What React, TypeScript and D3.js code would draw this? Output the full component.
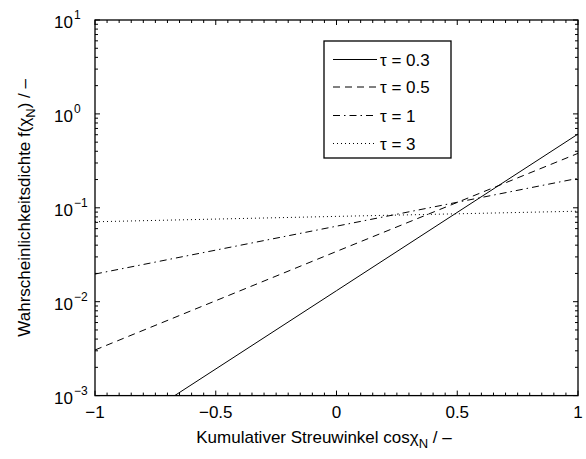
import React from "react";
import * as d3 from "d3";

const W = 586;
const H = 459;
const M = { left: 95, top: 20, right: 578, bottom: 395.6 };

const legendLabels = ["τ = 0.3", "τ = 0.5", "τ = 1", "τ = 3"];
const dashes = ["none", "7,5", "7,4,1.5,4", "1,3"];

// cos chi_N positions and density values
const xs03 = [-0.67, 0, 1];
const ys03 = [0.001, 0.0131, 0.61];
const xs05 = [-1, 0, 1];
const ys05 = [0.00306, 0.0343, 0.38];
const xs1 = [-1, 0, 1];
const ys1 = [0.0197, 0.0637, 0.206];
const xs3 = [-1, 0, 1];
const ys3 = [0.071, 0.081, 0.092];

const xTickVals = [-1, -0.5, 0, 0.5, 1];
const xTickLabels = ["−1", "−0.5", "0", "0.5", "1"];
const yExps = [-3, -2, -1, 0, 1];
const yExpLabels = ["−3", "−2", "−1", "0", "1"];

export default function App() {
  const x = d3.scaleLinear().domain([-1, 1]).range([M.left, M.right]);
  const y = d3.scaleLog().domain([1e-3, 10]).range([M.bottom, M.top]);

  const series = [
    { xs: xs03, ys: ys03 },
    { xs: xs05, ys: ys05 },
    { xs: xs1, ys: ys1 },
    { xs: xs3, ys: ys3 },
  ];
  const line = d3
    .line<[number, number]>()
    .x((d) => x(d[0]))
    .y((d) => y(d[1]));

  const xMinor = d3.range(-1, 1.0001, 0.05).filter(
    (v) => !xTickVals.some((t) => Math.abs(t - v) < 1e-6)
  );
  const yMinor: number[] = [];
  for (let e = -3; e < 1; e++) {
    for (let k = 2; k <= 9; k++) yMinor.push(k * Math.pow(10, e));
  }

  const axisColor = "#000";
  const font = "'Liberation Sans', Arial, Helvetica, sans-serif";
  const majorLen = 5;
  const minorLen = 3;

  const legX = 324;
  const legY = 41;
  const legW = 127;
  const legH = 117;
  const rowY = [59.5, 87, 115.5, 143.5];

  return (
    <svg
      width={W}
      height={H}
      style={{ position: "absolute", left: 0, top: 0, background: "#fff" }}
      fontFamily={font}
    >
      <rect x={0} y={0} width={W} height={H} fill="#fff" />
      <defs>
        <clipPath id="plotclip">
          <rect x={M.left} y={M.top} width={M.right - M.left} height={M.bottom - M.top} />
        </clipPath>
      </defs>

      {/* data lines */}
      <g clipPath="url(#plotclip)">
        {series.map((s, i) => (
          <path
            key={i}
            d={line(s.xs.map((v, j) => [v, s.ys[j]] as [number, number])) || ""}
            fill="none"
            stroke="#000"
            strokeWidth={1}
            strokeDasharray={dashes[i]}
          />
        ))}
      </g>

      {/* ticks */}
      <g stroke={axisColor} strokeWidth={1}>
        {xTickVals.map((v, i) => (
          <g key={"xt" + i}>
            <line x1={x(v)} x2={x(v)} y1={M.bottom} y2={M.bottom - majorLen} />
            <line x1={x(v)} x2={x(v)} y1={M.top} y2={M.top + majorLen} />
          </g>
        ))}
        {xMinor.map((v, i) => (
          <g key={"xm" + i}>
            <line x1={x(v)} x2={x(v)} y1={M.bottom} y2={M.bottom - minorLen} />
            <line x1={x(v)} x2={x(v)} y1={M.top} y2={M.top + minorLen} />
          </g>
        ))}
        {yExps.map((e, i) => (
          <g key={"yt" + i}>
            <line x1={M.left} x2={M.left + majorLen} y1={y(Math.pow(10, e))} y2={y(Math.pow(10, e))} />
            <line x1={M.right} x2={M.right - majorLen} y1={y(Math.pow(10, e))} y2={y(Math.pow(10, e))} />
          </g>
        ))}
        {yMinor.map((v, i) => (
          <g key={"ym" + i}>
            <line x1={M.left} x2={M.left + minorLen} y1={y(v)} y2={y(v)} />
            <line x1={M.right} x2={M.right - minorLen} y1={y(v)} y2={y(v)} />
          </g>
        ))}
      </g>

      {/* axes box */}
      <rect
        x={M.left}
        y={M.top}
        width={M.right - M.left}
        height={M.bottom - M.top}
        fill="none"
        stroke={axisColor}
        strokeWidth={1.3}
      />

      {/* x tick labels */}
      {xTickVals.map((v, i) => (
        <text key={"xl" + i} x={x(v)} y={418} textAnchor="middle" fontSize={17} fill="#000">
          {xTickLabels[i]}
        </text>
      ))}

      {/* y tick labels */}
      {yExps.map((e, i) => {
        const yy = y(Math.pow(10, e));
        return (
          <g key={"yl" + i}>
            <text x={73} y={yy + 8} textAnchor="end" fontSize={17} fill="#000">
              10
            </text>
            <text x={74} y={yy - 1} textAnchor="start" fontSize={12} fill="#000">
              {yExpLabels[i]}
            </text>
          </g>
        );
      })}

      {/* x label */}
      <text x={324} y={443} textAnchor="middle" fontSize={17} fill="#000">
        Kumulativer Streuwinkel cos
        <tspan>χ</tspan>
        <tspan fontSize={13} dy={5}>N</tspan>
        <tspan dy={-5}> / –</tspan>
      </text>

      {/* y label */}
      <text
        transform={`translate(30, ${(M.top + M.bottom) / 2}) rotate(-90)`}
        textAnchor="middle"
        fontSize={17}
        fill="#000"
      >
        Wahrscheinlichkeitsdichte f(χ
        <tspan fontSize={13} dy={5}>N</tspan>
        <tspan dy={-5}>) / –</tspan>
      </text>

      {/* legend */}
      <rect x={legX} y={legY} width={legW} height={legH} fill="#fff" stroke="#000" strokeWidth={1.3} />
      {legendLabels.map((lab, i) => (
        <g key={"lg" + i}>
          <line
            x1={333}
            x2={377}
            y1={rowY[i]}
            y2={rowY[i]}
            stroke="#000"
            strokeWidth={1}
            strokeDasharray={dashes[i]}
          />
          <text x={380} y={rowY[i] + 6} fontSize={17} fill="#000">
            {lab}
          </text>
        </g>
      ))}
    </svg>
  );
}
